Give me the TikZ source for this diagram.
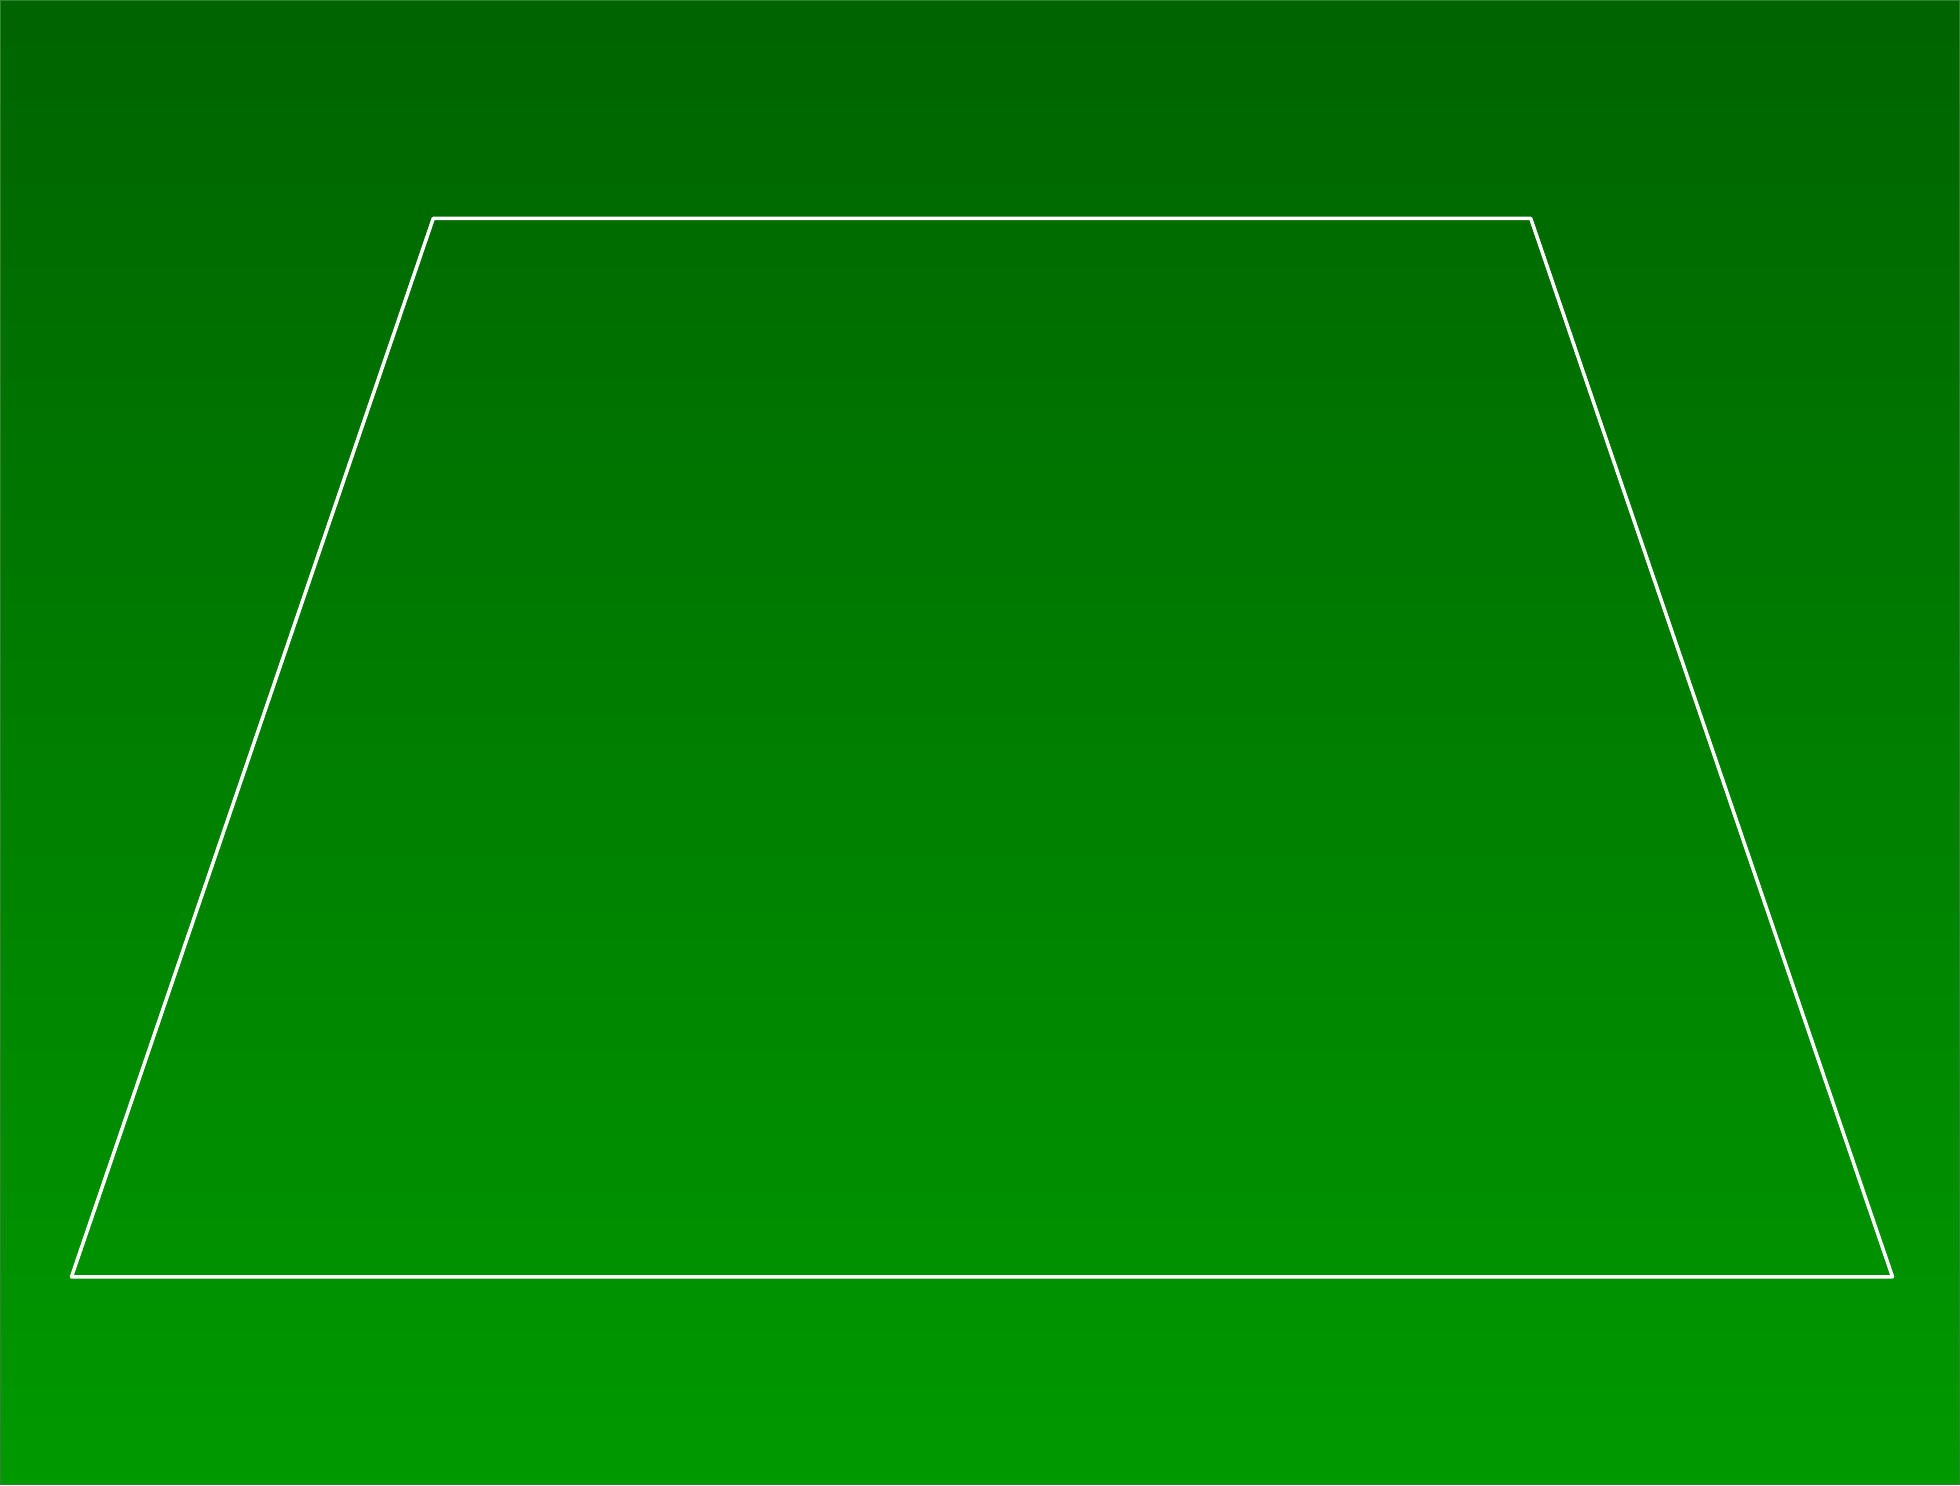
\documentclass[tikz,border=0pt]{standalone}
\usepackage{xcolor}
\usepackage{tikz}
\definecolor{fieldtop}{RGB}{0,100,0}
\definecolor{fieldbottom}{RGB}{0,153,0}
\definecolor{fieldedge}{RGB}{50,130,50}

\begin{document}
\begin{tikzpicture}[
outline/.style={draw=white, line width=1pt, line join=round}
]
\shade[top color=fieldtop, bottom color=fieldbottom, draw=fieldedge, line width=0.3pt] (0,0) rectangle (19.6,14.85);
\useasboundingbox (0,0) rectangle (19.6,14.85);
\coordinate (tl) at (4.33,12.67);
\coordinate (tr) at (15.31,12.67);
\coordinate (br) at (18.93,2.08);
\coordinate (bl) at (0.71,2.08);
\draw[outline] (tl) -- (tr) -- (br) -- (bl) -- cycle;
\end{tikzpicture}
\end{document}
